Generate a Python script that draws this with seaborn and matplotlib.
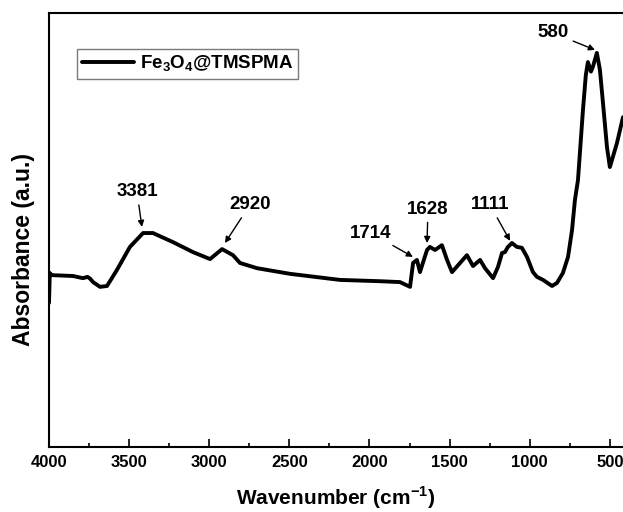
import numpy as np
import matplotlib
matplotlib.use("Agg")
from matplotlib import pyplot as plt
from matplotlib.ticker import MultipleLocator, NullLocator
import seaborn as sns

# FTIR spectrum (wavenumber cm-1, absorbance a.u.)
wavenumber = [4000, 3995, 3983, 3850, 3788, 3760, 3744, 3725, 3682, 3638, 3576, 3495,
              3413, 3351, 3226, 3101, 2995, 2920, 2852, 2808, 2702, 2496, 2184, 1935,
              1810, 1747, 1728, 1704, 1685, 1641, 1623, 1591, 1548, 1516, 1485, 1435,
              1392, 1354, 1310, 1279, 1229, 1198, 1173, 1155, 1136, 1111, 1080, 1049,
              1017, 980, 955, 917, 861, 830, 793, 761, 736, 718, 699, 668, 650, 637,
              618, 606, 581, 562, 543, 518, 500, 456, 418]
absorbance = [0.332, 0.401, 0.396, 0.394, 0.389, 0.392, 0.388, 0.380, 0.369, 0.371, 0.408, 0.461,
              0.493, 0.493, 0.472, 0.449, 0.433, 0.456, 0.442, 0.424, 0.412, 0.399, 0.385, 0.382,
              0.380, 0.369, 0.424, 0.431, 0.403, 0.454, 0.461, 0.454, 0.465, 0.431, 0.403, 0.424,
              0.442, 0.417, 0.431, 0.412, 0.389, 0.415, 0.447, 0.449, 0.461, 0.470, 0.461, 0.459,
              0.438, 0.403, 0.392, 0.385, 0.371, 0.378, 0.401, 0.438, 0.500, 0.569, 0.615, 0.776,
              0.857, 0.887, 0.865, 0.876, 0.908, 0.869, 0.793, 0.691, 0.645, 0.700, 0.760]

# peak labels: (label, text position, arrow tip)
peak_labels = ["3381", "2920", "1714", "1628", "1111", "580"]
label_xy = [(3451, 0.588), (2746, 0.558), (1991, 0.493), (1635, 0.548), (1248, 0.558), (855, 0.954)]
tip_xy = [(3420, 0.507), (2902, 0.470), (1729, 0.438), (1641, 0.470), (1123, 0.475), (593, 0.915)]

sns.set_style("ticks")
plt.rcParams['font.family'] = ['Liberation Sans', 'DejaVu Sans']
plt.rcParams['font.weight'] = 'bold'
plt.rcParams['text.color'] = 'black'
plt.rcParams['axes.labelcolor'] = 'black'
plt.rcParams['xtick.color'] = 'black'
plt.rcParams['mathtext.fontset'] = 'custom'
plt.rcParams['mathtext.bf'] = 'Liberation Sans:bold'
plt.rcParams['mathtext.rm'] = 'Liberation Sans:bold'

fig = plt.figure(figsize=(6.23, 5.12), dpi=100)
ax = fig.add_axes([49 / 623, 65 / 512, 574 / 623, 434 / 512])

sns.lineplot(x=wavenumber, y=absorbance, ax=ax, color="black", linewidth=2.8,
             label=r"Fe$_\mathbf{3}$O$_\mathbf{4}$@TMSPMA")

ax.set_xlim(4000, 418)
ax.set_ylim(0, 1)
ax.xaxis.set_major_locator(MultipleLocator(500))
ax.xaxis.set_minor_locator(MultipleLocator(250))
ax.yaxis.set_major_locator(NullLocator())
ax.tick_params(axis='x', which='major', direction='in', length=6, width=1.2,
               labelsize=12, pad=6)
ax.tick_params(axis='x', which='minor', direction='in', length=3, width=1.2)
for lab in ax.get_xticklabels():
    lab.set_fontweight('bold')

for side in ['left', 'bottom', 'top']:
    ax.spines[side].set_linewidth(1.5)
    ax.spines[side].set_color('black')
ax.spines['right'].set_visible(False)

ax.set_xlabel(r"Wavenumber (cm$^\mathbf{-1}$)", fontsize=15, fontweight='bold', labelpad=10)
ax.set_ylabel("Absorbance (a.u.)", fontsize=16.5, fontweight='bold')
ax.yaxis.set_label_coords(-0.024, 0.455)

for text, xy_text, xy_tip in zip(peak_labels, label_xy, tip_xy):
    ax.annotate(text, xy=xy_tip, xytext=xy_text, ha='center', va='center',
                fontsize=13.5, fontweight='bold',
                arrowprops=dict(arrowstyle='-|>', color='black', lw=1,
                                mutation_scale=9, shrinkA=1, shrinkB=0))

leg = ax.legend(loc='upper left', bbox_to_anchor=(0.049, 0.917), borderaxespad=0,
                fontsize=13.5, frameon=True, fancybox=False, handlelength=2.8,
                handletextpad=0.3, borderpad=0.25)
leg.get_frame().set_edgecolor('0.35')
leg.get_frame().set_linewidth(1)
for t in leg.get_texts():
    t.set_fontweight('bold')

fig.savefig("out.png", dpi=100)
